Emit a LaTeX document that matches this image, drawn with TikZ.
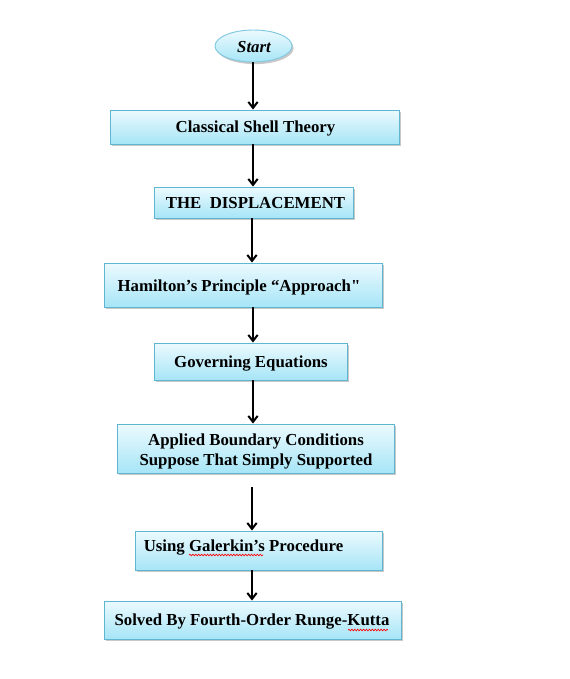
\documentclass[tikz,border=0pt]{standalone}
\usepackage{fontspec}
\setmainfont{Liberation Serif}
\newfontfamily\rawfont{Liberation Serif}
\usetikzlibrary{arrows.meta,shadows,decorations.pathmorphing,shapes.geometric}
\definecolor{boxline}{RGB}{95,182,208}
\definecolor{boxtop}{RGB}{236,250,254}
\definecolor{boxbot}{RGB}{166,229,247}
\definecolor{ellline}{RGB}{130,200,225}
\begin{document}
\begin{tikzpicture}[x=0.75pt,y=-0.75pt,
  box/.style={draw=boxline, line width=0.7pt, top color=boxtop, bottom color=boxbot,
    drop shadow={shadow xshift=1.2pt, shadow yshift=-1.6pt, opacity=0.3, fill=black!70},
    inner sep=0pt},
  lbl/.style={font=\fontsize{12.6}{15}\selectfont\bfseries, inner sep=0pt, align=center},
  arr/.style={line width=1.5pt, -{Straight Barb[length=4.5pt,width=7pt,line width=1.5pt]}},
  spell/.style={draw=red, line width=0.5pt, decorate, decoration={snake, amplitude=0.6pt, segment length=2.2pt}}]
\useasboundingbox (0,0) rectangle (570,679);
\fill[white] (0,0) rectangle (570,679);

\node[box, ellipse, draw=ellline, minimum width=77*0.75pt, minimum height=32*0.75pt] (start) at (253.5,46) {};
\node[lbl, font=\fontsize{12.6}{15}\selectfont\bfseries\itshape] (tstart) at (254,47.5) {Start};

\node[box, minimum width=289*0.75pt, minimum height=34*0.75pt] (b1) at (254.5,127) {};
\node[lbl] (t1) at (255.5,128) {Classical Shell Theory};

\node[box, minimum width=199*0.75pt, minimum height=31*0.75pt] (b2) at (253.5,202.5) {};
\node[lbl] (t2) at (255.5,203.5) {THE\ \ DISPLACEMENT};

\node[box, minimum width=278*0.75pt, minimum height=44*0.75pt] (b3) at (243,285) {};
\node[lbl] (t3) at (239,287.5) {Hamilton’s Principle “Approach{\rawfont\bfseries\char34}};

\node[box, minimum width=193*0.75pt, minimum height=37*0.75pt] (b4) at (250.5,361.5) {};
\node[lbl] (t4) at (251,363.5) {Governing Equations};

\node[box, minimum width=277*0.75pt, minimum height=49*0.75pt] (b5) at (255.5,448.5) {};
\node[lbl, font=\fontsize{12.6}{15}\selectfont\bfseries] (t5) at (256,451) {Applied Boundary Conditions\\Suppose That Simply Supported};

\node[box, minimum width=247*0.75pt, minimum height=39*0.75pt] (b6) at (258.5,550.5) {};
\node[lbl] (t6) at (243.5,548) {Using Galerkin’s Procedure};

\node[box, minimum width=297*0.75pt, minimum height=38*0.75pt] (b7) at (252.5,620) {};
\node[lbl] (t7) at (252,622) {Solved By Fourth-Order Runge-Kutta};

\coordinate (s1) at (189,555);
\coordinate (e1) at (263,555);
\coordinate (s2) at (348,630);
\coordinate (e2) at (388,630);
\draw[spell] (s1) -- (e1);
\draw[spell] (s2) -- (e2);

\coordinate (x1) at (253,0);
\coordinate (x2) at (252,0);
\coordinate (g) at (252,487);
\draw[arr] (start.south -| x1) -- (x1 |- b1.north);
\draw[arr] (b1.south -| x1) -- (x1 |- b2.north);
\draw[arr] (b2.south -| x2) -- (x2 |- b3.north);
\draw[arr] (b3.south -| x1) -- (x1 |- b4.north);
\draw[arr] (b4.south -| x1) -- (x1 |- b5.north);
\draw[arr] (g) -- (g |- b6.north);
\draw[arr] (b6.south -| x2) -- (x2 |- b7.north);
\end{tikzpicture}
\end{document}
